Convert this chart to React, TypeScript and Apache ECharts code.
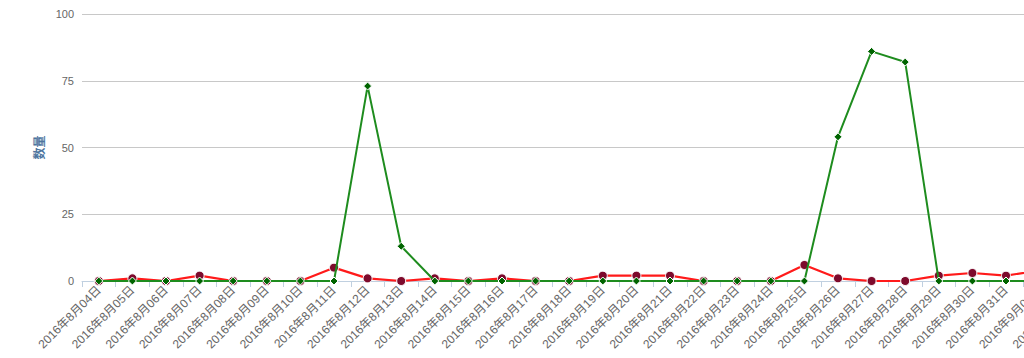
import React, { useEffect, useRef } from "react";
import * as echarts from "echarts";

const categories = [
  "2016年8月04日", "2016年8月05日", "2016年8月06日", "2016年8月07日", "2016年8月08日",
  "2016年8月09日", "2016年8月10日", "2016年8月11日", "2016年8月12日", "2016年8月13日",
  "2016年8月14日", "2016年8月15日", "2016年8月16日", "2016年8月17日", "2016年8月18日",
  "2016年8月19日", "2016年8月20日", "2016年8月21日", "2016年8月22日", "2016年8月23日",
  "2016年8月24日", "2016年8月25日", "2016年8月26日", "2016年8月27日", "2016年8月28日",
  "2016年8月29日", "2016年8月30日", "2016年8月31日", "2016年9月01日", "2016年9月02日",
];

const redValues = [0, 1, 0, 2, 0, 0, 0, 5, 1, 0, 1, 0, 1, 0, 0, 2, 2, 2, 0, 0, 0, 6, 1, 0, 0, 2, 3, 2, 4, 2];
const greenValues = [0, 0, 0, 0, 0, 0, 0, 0, 73, 13, 0, 0, 0, 0, 0, 0, 0, 0, 0, 0, 0, 0, 54, 86, 82, 0, 0, 0, 0, 0];

const yTicks = { min: 0, max: 100, interval: 25 };
const yName = "数量";

export default function App() {
  const ref = useRef<HTMLDivElement>(null);
  useEffect(() => {
    if (!ref.current) return;
    const chart = echarts.init(ref.current, undefined, { renderer: "svg" });
    chart.setOption({
      animation: false,
      grid: { left: 82, right: 10, top: 14, bottom: 77 },
      xAxis: {
        type: "category",
        data: categories,
        boundaryGap: true,
        axisLine: { lineStyle: { color: "#C0D0E0", width: 1 } },
        axisTick: { show: true, length: 6, lineStyle: { color: "#C0D0E0" } },
        axisLabel: {
          rotate: 45,
          interval: 0,
          color: "#666666",
          fontSize: 12,
          fontFamily: "Liberation Sans, Noto Sans CJK SC, sans-serif",
          margin: 7,
        },
      },
      yAxis: {
        type: "value",
        min: yTicks.min,
        max: yTicks.max,
        interval: yTicks.interval,
        name: yName,
        nameLocation: "middle",
        nameGap: 35,
        nameRotate: 90,
        nameTextStyle: {
          color: "#4d759e",
          fontWeight: "bold",
          fontSize: 12,
          fontFamily: "Noto Sans CJK SC, sans-serif",
        },
        axisLine: { show: false },
        axisTick: { show: false },
        splitLine: { lineStyle: { color: "#C8C8C8", width: 1 } },
        axisLabel: {
          color: "#666666",
          fontSize: 11,
          fontFamily: "Liberation Sans, sans-serif",
          margin: 8,
        },
      },
      series: [
        {
          type: "line",
          data: redValues,
          symbol: "circle",
          symbolSize: 9,
          lineStyle: { color: "#ff1a1a", width: 2.2 },
          itemStyle: { color: "#7d0a2c", borderColor: "#ffffff", borderWidth: 1 },
          z: 2,
        },
        {
          type: "line",
          data: greenValues,
          symbol: "diamond",
          symbolSize: 8,
          lineStyle: { color: "#1e8c1e", width: 2 },
          itemStyle: { color: "#006400", borderColor: "#ffffff", borderWidth: 1 },
          z: 3,
        },
      ],
    });
    return () => chart.dispose();
  }, []);
  return (
    <div style={{ position: "fixed", left: 0, top: 0, width: 1024, height: 358, overflow: "hidden", background: "#fff" }}>
      <div ref={ref} style={{ width: 1100, height: 358 }} />
    </div>
  );
}
